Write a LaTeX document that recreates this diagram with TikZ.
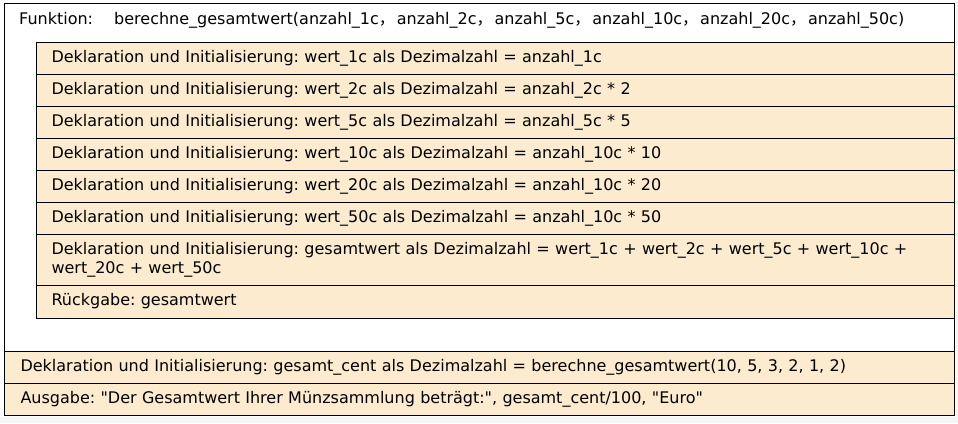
\documentclass[tikz,border=0pt]{standalone}
\usepackage{fontspec}
\setmainfont{DejaVu Sans}
\newfontfamily\cjkfont{Noto Sans CJK SC}
\definecolor{rowfill}{HTML}{FDEBD0}
\definecolor{canvas}{HTML}{F6F6F6}
\newcommand{\fwc}{{\cjkfont ，}\hspace{2pt}}
\newcommand{\dq}{\textquotedbl}

\begin{document}
\frenchspacing
\begin{tikzpicture}[x=1pt,y=-1pt,
  every node/.style={font=\fontsize{16}{19}\selectfont},
  outerbox/.style={draw=black, line width=1.3pt, fill=white, anchor=north west,
    minimum width=950pt, minimum height=412pt, inner sep=0pt},
  inrow/.style={draw=black, line width=1pt, fill=rowfill, anchor=north west,
    minimum width=918pt, minimum height=32pt, inner xsep=15pt, inner ysep=0pt,
    text width=888pt, align=left, text height=11pt, text depth=4pt},
  outrow/.style={inrow, minimum width=950pt, text width=918pt, inner xsep=16pt},
  label/.style={anchor=base west, inner sep=0pt}
]
\useasboundingbox (0,0) rectangle (958,423);
\fill[white] (0,0) rectangle (958,423);
\fill[canvas] (956,0) rectangle (958,423);
\fill[canvas] (0,417) rectangle (958,423);

% function frame with its header
\node[outerbox] (func) at (4,3) {};
\node[label] (kw) at (19,24) {Funktion:};
\node[label] (sig) at (114,24) {berechne\_gesamtwert(anzahl\_1c\fwc anzahl\_2c\fwc anzahl\_5c\fwc anzahl\_10c\fwc anzahl\_20c\fwc anzahl\_50c)};

% body of the function
\node[inrow] (s1) at (36,42) {Deklaration und Initialisierung: wert\_1c als Dezimalzahl = anzahl\_1c};
\node[inrow] (s2) at (36,74) {Deklaration und Initialisierung: wert\_2c als Dezimalzahl = anzahl\_2c * 2};
\node[inrow] (s3) at (36,106) {Deklaration und Initialisierung: wert\_5c als Dezimalzahl = anzahl\_5c * 5};
\node[inrow] (s4) at (36,138) {Deklaration und Initialisierung: wert\_10c als Dezimalzahl = anzahl\_10c * 10};
\node[inrow] (s5) at (36,170) {Deklaration und Initialisierung: wert\_20c als Dezimalzahl = anzahl\_10c * 20};
\node[inrow] (s6) at (36,202) {Deklaration und Initialisierung: wert\_50c als Dezimalzahl = anzahl\_10c * 50};
\node[inrow, minimum height=51pt, text depth=23pt] (s7) at (36,234) {Deklaration und Initialisierung: gesamtwert als Dezimalzahl = wert\_1c + wert\_2c + wert\_5c + wert\_10c +\\ wert\_20c + wert\_50c};
\node[inrow, minimum height=33pt] (s8) at (36,285) {Rückgabe: gesamtwert};

% main program
\node[outrow] (m1) at (4,351) {Deklaration und Initialisierung: gesamt\_cent als Dezimalzahl = berechne\_gesamtwert(10, 5, 3, 2, 1, 2)};
\node[outrow] (m2) at (4,383) {Ausgabe: \dq Der Gesamtwert Ihrer Münzsammlung beträgt:\dq, gesamt\_cent/100, \dq Euro\dq};
\end{tikzpicture}
\end{document}
